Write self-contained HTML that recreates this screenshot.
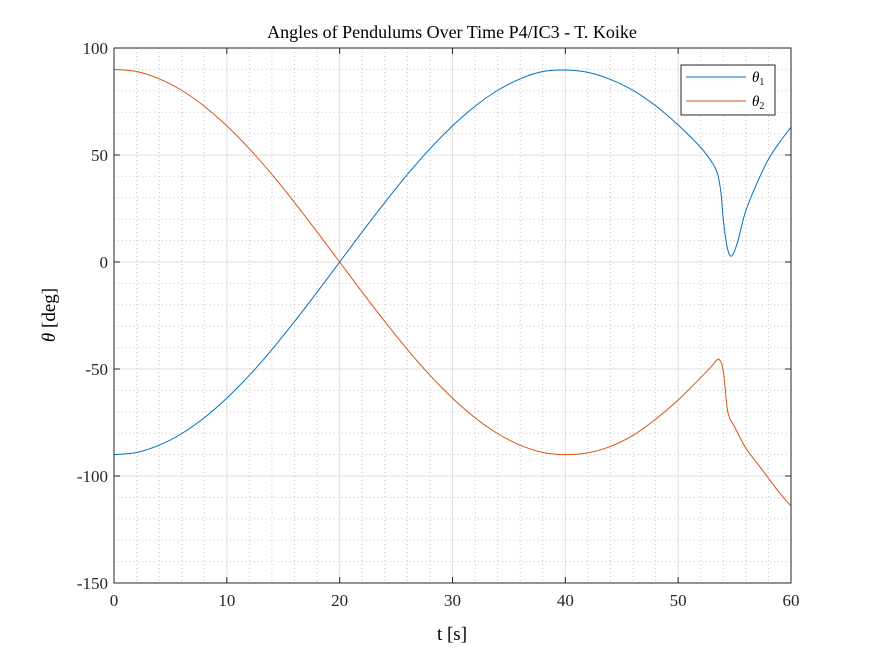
<!DOCTYPE html>
<html><head><meta charset="utf-8"><style>
body{margin:0;background:#fff}
svg{font-family:"Liberation Serif","DejaVu Serif",serif}
</style></head><body>
<svg id="c" width="875" height="656" viewBox="0 0 875 656">
<rect width="875" height="656" fill="#fff"/>
<g id="grid"></g>
<g id="series"></g>
<rect x="114" y="48" width="677" height="535" fill="none" stroke="#262626" stroke-width="1"/>
<g id="ticks"></g>
<text x="452" y="38" font-size="18" text-anchor="middle" fill="#000">Angles of Pendulums Over Time P4/IC3 - T. Koike</text>
<text x="452" y="640" font-size="19" text-anchor="middle">t [s]</text>
<text transform="translate(55,315) rotate(-90)" font-size="19" text-anchor="middle"><tspan font-style="italic">θ</tspan> [deg]</text>
<g>
<rect x="681" y="65" width="94" height="50" fill="#fff" stroke="#262626" stroke-width="1"/>
<line x1="686" y1="77" x2="746" y2="77" stroke="#0072BD"/>
<text x="752" y="82" font-size="15"><tspan font-style="italic">θ</tspan><tspan font-size="10" dy="3">1</tspan></text>
<line x1="686" y1="101" x2="746" y2="101" stroke="#D95319"/>
<text x="752" y="106" font-size="15"><tspan font-style="italic">θ</tspan><tspan font-size="10" dy="3">2</tspan></text>
</g>
</svg>
<script>
const t1=[0,2,4,6,8,10,12,14,16,18,20,22,24,26,28,30,32,34,36,38,40,42,44,46,48,50,52,53,53.5,53.8,54,54.3,54.6,54.9,55.3,56,57,58,59,60];
const theta1=[-90,-89,-85.6,-80.2,-72.8,-63.6,-52.9,-40.9,-27.8,-14.1,0,14.1,27.8,40.9,52.9,63.6,72.8,80.2,85.6,89,89.7,88.6,85.3,80.2,73,64,53.5,46.5,41,32,20,8,3,4,10,24,37,48,56,63];
const t2=[0,2,4,6,8,10,12,14,16,18,20,22,24,26,28,30,32,34,36,38,40,42,44,46,48,50,52,53,53.6,54,54.4,55,56,57,58,59,60];
const theta2=[90,89,85.6,80.2,72.8,63.6,52.9,40.9,27.8,14.1,0,-14.1,-27.8,-40.9,-52.9,-63.6,-72.8,-80.2,-85.6,-89,-90,-89.2,-86.2,-81,-73.5,-64.5,-54,-48.5,-45.5,-51,-70,-77,-87,-94,-101,-108,-114];
const xTicks=[0,10,20,30,40,50,60];
const yTicks=[100,50,0,-50,-100,-150];
const X0=114,X1=791,Y0=583,Y1=48;
const sx=t=>X0+(t-0)/60*(X1-X0);
const sy=v=>Y0-(v+150)/250*(Y0-Y1);
const NS="http://www.w3.org/2000/svg";
function mk(tag,attrs,parent){const e=document.createElementNS(NS,tag);for(const k in attrs)e.setAttribute(k,attrs[k]);parent.appendChild(e);return e;}
const grid=document.getElementById('grid'),ticks=document.getElementById('ticks'),series=document.getElementById('series');
for(let t=0;t<=60;t+=2){if(t%10===0)continue;const l=mk('line',{x1:sx(t),x2:sx(t),y1:Y1,y2:Y0,stroke:'#c8c8c8','stroke-dasharray':'1,3','stroke-width':1},grid);

}
for(let v=-150;v<=100;v+=10){if(v%50===0)continue;const l=mk('line',{x1:X0,x2:X1,y1:sy(v),y2:sy(v),stroke:'#c8c8c8','stroke-dasharray':'1,3','stroke-width':1},grid);

}
xTicks.forEach(t=>{const l=mk('line',{x1:sx(t),x2:sx(t),y1:Y1,y2:Y0,stroke:'#dfdfdf'},grid);


const k1=mk('line',{x1:sx(t),x2:sx(t),y1:Y0,y2:Y0-6,stroke:'#262626'},ticks);


const k2=mk('line',{x1:sx(t),x2:sx(t),y1:Y1,y2:Y1+6,stroke:'#262626'},ticks);


const tx=mk('text',{x:sx(t),y:Y0+23,'font-size':17,'text-anchor':'middle',fill:'#262626'},ticks);tx.textContent=t;

});
yTicks.forEach(v=>{const l=mk('line',{x1:X0,x2:X1,y1:sy(v),y2:sy(v),stroke:'#dfdfdf'},grid);


const k1=mk('line',{x1:X0,x2:X0+6,y1:sy(v),y2:sy(v),stroke:'#262626'},ticks);


const k2=mk('line',{x1:X1,x2:X1-6,y1:sy(v),y2:sy(v),stroke:'#262626'},ticks);


const tx=mk('text',{x:X0-6,y:sy(v)+6,'font-size':17,'text-anchor':'end',fill:'#262626'},ticks);tx.textContent=v;

});
function path(ts,vs){const p=ts.map((t,i)=>[sx(t),sy(vs[i])]);let d=`M${p[0][0]},${p[0][1]}`;
for(let i=0;i<p.length-1;i++){const a=p[Math.max(0,i-1)],b=p[i],c=p[i+1],e=p[Math.min(p.length-1,i+2)];
const c1=[b[0]+(c[0]-a[0])/6,b[1]+(c[1]-a[1])/6],c2=[c[0]-(e[0]-b[0])/6,c[1]-(e[1]-b[1])/6];
d+=` C${c1[0]},${c1[1]} ${c2[0]},${c2[1]} ${c[0]},${c[1]}`;}return d;}
const s1=mk('path',{d:path(t1,theta1),fill:'none',stroke:'#0072BD','stroke-width':1},series);


const s2=mk('path',{d:path(t2,theta2),fill:'none',stroke:'#D95319','stroke-width':1},series);


</script>
</body></html>
